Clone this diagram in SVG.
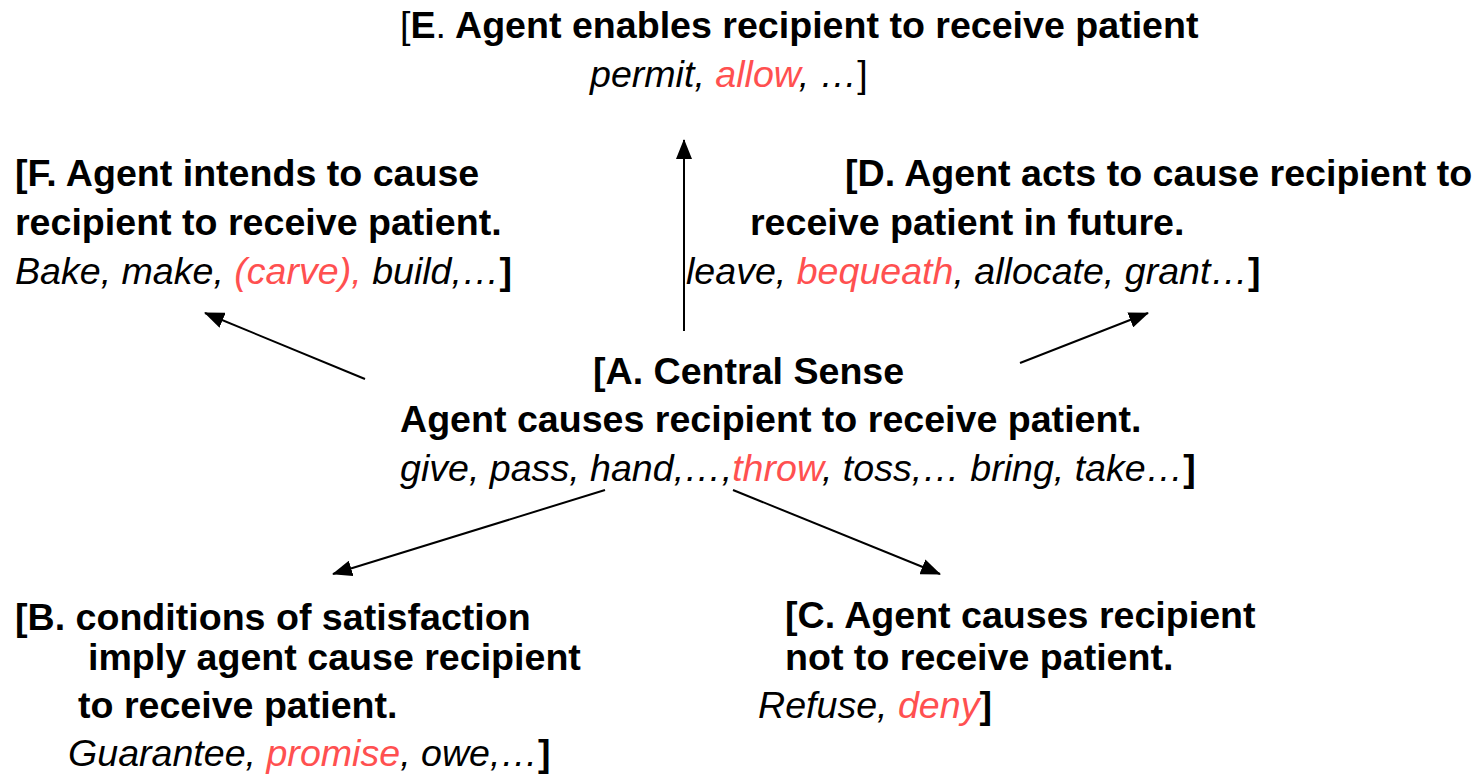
<svg xmlns="http://www.w3.org/2000/svg" width="1475" height="777" viewBox="0 0 1475 777">
<style>
text{font-family:"Liberation Sans",Arial,sans-serif;font-size:37.6px;fill:#000}
.b{font-weight:bold}
.i{font-style:italic}
.r{fill:#ff5050}
.conn line{stroke:#000;stroke-width:2}
</style>
<defs>
<marker id="ah" viewBox="0 0 20 16" refX="19" refY="8" markerWidth="20" markerHeight="16" markerUnits="userSpaceOnUse" orient="auto">
<path d="M0,0 L20,8 L0,16 Z" fill="#000"/>
</marker>
</defs>
<rect width="1475" height="777" fill="#fff"/>
<g id="connectors" class="conn">
<line x1="684" y1="331" x2="684" y2="140" marker-end="url(#ah)"/>
<line x1="365" y1="379" x2="205" y2="313" marker-end="url(#ah)"/>
<line x1="1020" y1="363" x2="1148" y2="313" marker-end="url(#ah)"/>
<line x1="605" y1="490" x2="333" y2="574" marker-end="url(#ah)"/>
<line x1="733" y1="490" x2="940" y2="574" marker-end="url(#ah)"/>
</g>
<g id="nodeE">
<text x="400" y="38"><tspan>[</tspan><tspan class="b">E</tspan><tspan>.</tspan><tspan class="b"> Agent enables recipient to receive patient</tspan></text>
<text x="590" y="87"><tspan class="i">permit, </tspan><tspan class="i r">allow</tspan><tspan class="i">, …</tspan><tspan>]</tspan></text>
</g>
<g id="nodeF">
<text x="15" y="186" class="b">[F. Agent intends to cause</text>
<text x="15" y="235" class="b">recipient to receive patient.</text>
<text x="15" y="284"><tspan class="i">Bake, make, </tspan><tspan class="i r">(carve), </tspan><tspan class="i">build,…</tspan><tspan class="b">]</tspan></text>
</g>
<g id="nodeD">
<text x="845" y="186" class="b">[D. Agent acts to cause recipient to</text>
<text x="750" y="235" class="b">receive patient in future.</text>
<text x="686" y="284"><tspan class="i">leave, </tspan><tspan class="i r">bequeath</tspan><tspan class="i">, allocate, grant…</tspan><tspan class="b">]</tspan></text>
</g>
<g id="nodeA">
<text x="593" y="384" class="b">[A. Central Sense</text>
<text x="400" y="432" class="b">Agent causes recipient to receive patient.</text>
<text x="400" y="481"><tspan class="i">give, pass, hand,…,</tspan><tspan class="i r">throw</tspan><tspan class="i">, toss,… bring, take…</tspan><tspan class="b">]</tspan></text>
</g>
<g id="nodeB">
<text x="15" y="630" class="b">[B. conditions of satisfaction</text>
<text x="88" y="670" class="b">imply agent cause recipient</text>
<text x="78" y="718" class="b">to receive patient.</text>
<text x="68" y="766"><tspan class="i">Guarantee, </tspan><tspan class="i r">promise</tspan><tspan class="i">, owe,…</tspan><tspan class="b">]</tspan></text>
</g>
<g id="nodeC">
<text x="785" y="628" class="b">[C. Agent causes recipient</text>
<text x="785" y="670" class="b">not to receive patient.</text>
<text x="758" y="718"><tspan class="i">Refuse, </tspan><tspan class="i r">deny</tspan><tspan class="b">]</tspan></text>
</g>
</svg>
